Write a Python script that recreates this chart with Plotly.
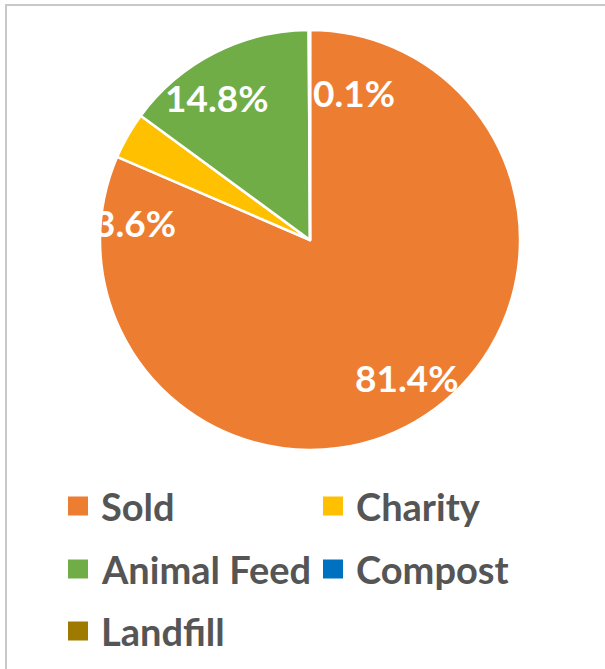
import plotly.graph_objects as go

# ---- data ----
categories = ["Sold", "Charity", "Animal Feed", "Compost", "Landfill"]
values = [81.4, 3.6, 14.8, 0.1, 0.0]   # percent shares
colors = ["#ED7D31", "#FFC000", "#70AD47", "#0070C0", "#9E7A00"]

# ---- layout helpers (pixel -> paper) ----
W, H = 605, 669
def px(x):
    return x / W
def py(y):
    return 1 - y / H

# label positions (pixel centres) for each slice's percentage label
label_pos = {"Sold": (407, 377), "Charity": (135, 222), "Animal Feed": (217, 97), "Compost": (354, 93)}

fig = go.Figure()
fig.add_trace(go.Pie(
    labels=categories,
    values=values,
    sort=False,
    direction="clockwise",
    rotation=0,
    marker=dict(colors=colors, line=dict(color="white", width=2.5)),
    textinfo="none",
    hoverinfo="label+percent",
    showlegend=False,
    domain=dict(x=[px(100), px(520)], y=[py(450), py(30)]),
))

annotations = []
for cat, v in zip(categories, values):
    if v <= 0 or cat not in label_pos:
        continue
    x, y = label_pos[cat]
    annotations.append(dict(
        x=px(x), y=py(y), xref="paper", yref="paper",
        text=f"{v:.1f}%", showarrow=False,
        xanchor="center", yanchor="middle",
        font=dict(family="Lato", size=37, color="white", weight="bold"),
    ))

# manual legend (two columns)
legend_cols = [68, 323]
legend_rows = [506, 569, 631]
shapes = []
for i, (cat, col) in enumerate(zip(categories, colors)):
    r, c = divmod(i, 2)
    sx = legend_cols[c]
    sy = legend_rows[r]
    shapes.append(dict(type="rect", xref="paper", yref="paper",
                       x0=px(sx), x1=px(sx + 20), y0=py(sy - 9.5), y1=py(sy + 9.5),
                       fillcolor=col, line=dict(width=0)))
    annotations.append(dict(
        x=px(sx + 31), y=py(sy), xref="paper", yref="paper",
        text=cat, showarrow=False, xanchor="left", yanchor="middle",
        font=dict(family="Lato", size=38, color="#555555", weight="bold"),
    ))

# frame border (top and left edges visible)
shapes.append(dict(type="path", xref="paper", yref="paper",
                   path=f"M {px(6)},0 L {px(6)},{py(5)} L 1,{py(5)}",
                   line=dict(color="#C8C8C8", width=2)))

fig.update_layout(
    width=W, height=H,
    margin=dict(l=0, r=0, t=0, b=0),
    paper_bgcolor="white",
    plot_bgcolor="white",
    annotations=annotations,
    shapes=shapes,
)

fig.write_html(
    "out.html",
    config={"displayModeBar": False},
    post_script="document.body.style.margin='0';document.body.style.overflow='hidden';",
)
